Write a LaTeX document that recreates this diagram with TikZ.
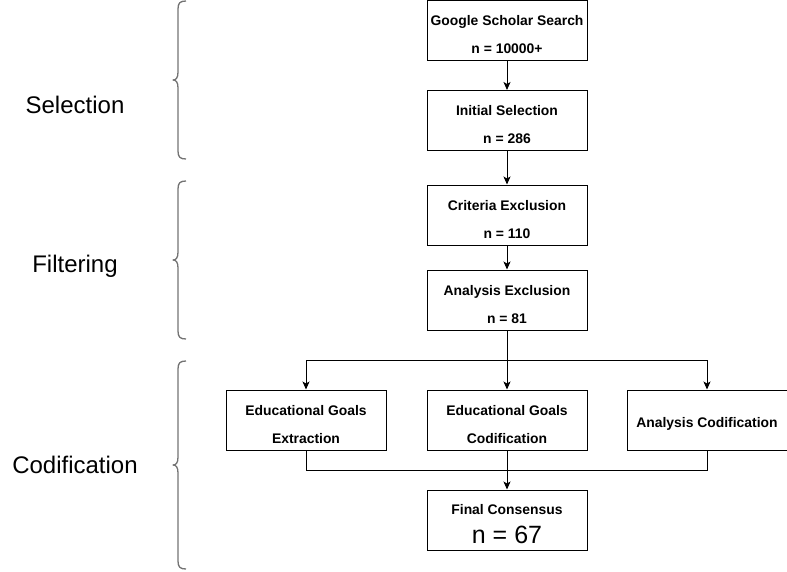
\documentclass[tikz,border=0pt]{standalone}
\usepackage{fontspec}
\setmainfont{Liberation Sans}
\usetikzlibrary{arrows.meta}
\newcommand\tstrutx{\rule{0pt}{18.5pt}}
\begin{document}
\begin{tikzpicture}[x=1pt,y=-1pt,
  box/.style={draw,line width=1pt,minimum width=160pt,minimum height=60pt,inner sep=0pt,align=center,font=\bfseries\fontsize{13.9}{28}\selectfont},
  conn/.style={line width=1pt},
  arr/.style={conn,-{Stealth[length=8pt,width=7pt,inset=2pt]}},
  brace/.style={line width=1.3pt,draw=black!55,line join=round},
  lab/.style={font=\fontsize{24}{28}\selectfont,anchor=center}]
\useasboundingbox (0,0) rectangle (787,571);
\node[box] (gs) at (507,30) {\tstrutx Google Scholar Search\\n = 10000+};
\node[box] (is) at (507,120.5) {\tstrutx Initial Selection\\n = 286};
\node[box] (ce) at (507,215) {\tstrutx Criteria Exclusion\\n = 110};
\node[box] (ae) at (507,300) {\tstrutx Analysis Exclusion\\n = 81};
\node[box] (ge) at (306,420) {\tstrutx Educational Goals\\Extraction};
\node[box] (gc) at (507,420) {\tstrutx Educational Goals\\Codification};
\node[box] (ac) at (707,420) {\tstrutx Analysis Codification};
\node[box,font=\bfseries\fontsize{13.9}{16}\selectfont] (fc) at (507,520) {\tstrutx Final Consensus\\[10pt]{\mdseries\fontsize{25}{28}\selectfont n = 67}};
\coordinate (split) at (507,360);
\coordinate (join) at (507,470);
\draw[arr] (gs) -- (is);
\draw[arr] (is) -- (ce);
\draw[arr] (ce) -- (ae);
\draw[conn] (ae) -- (split);
\draw[arr] (split) -- (gc);
\draw[arr] (split) -| (ge);
\draw[arr] (split) -| (ac);
\draw[conn] (ge.south) |- (join);
\draw[conn] (ac.south) |- (join);
\draw[conn] (gc) -- (join);
\draw[arr] (join) -- (fc);
% braces
\draw[brace] (186,1) .. controls (180,1) and (178,3) .. (178,9) -- (178,72) .. controls (178,78) and (176,80) .. (173,80) .. controls (176,80) and (178,82) .. (178,88) -- (178,151) .. controls (178,157) and (180,159) .. (186,159);
\draw[brace] (186,181) .. controls (180,181) and (178,183) .. (178,189) -- (178,252) .. controls (178,258) and (176,260) .. (173,260) .. controls (176,260) and (178,262) .. (178,268) -- (178,331) .. controls (178,337) and (180,339) .. (186,339);
\draw[brace] (186,361) .. controls (180,361) and (178,363) .. (178,369) -- (178,457) .. controls (178,463) and (176,465) .. (173,465) .. controls (176,465) and (178,467) .. (178,473) -- (178,561) .. controls (178,567) and (180,569) .. (186,569);
\node[lab] (sel) at (75,105) {Selection};
\node[lab] (fil) at (75,266) {Filtering};
\node[lab] (cod) at (75,465) {Codification};
\end{tikzpicture}
\end{document}
